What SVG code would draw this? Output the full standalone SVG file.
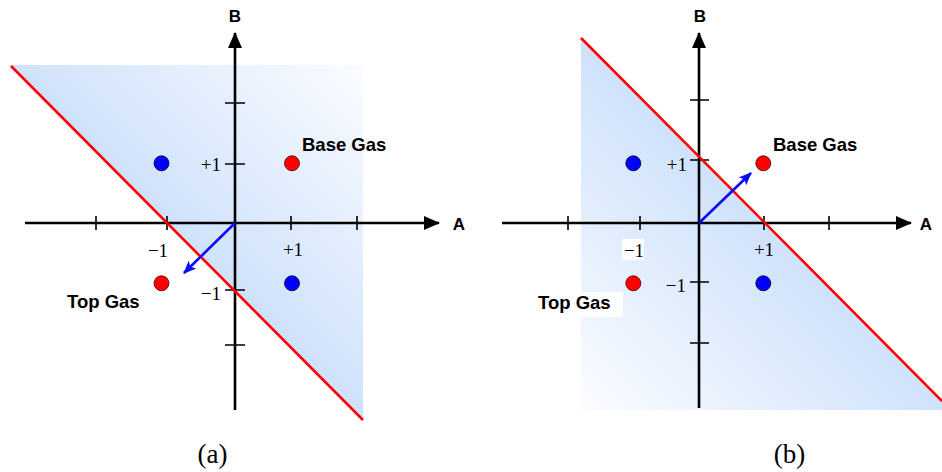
<svg xmlns="http://www.w3.org/2000/svg" width="942" height="472" viewBox="0 0 942 472">
<style>
.ax{stroke:#000;stroke-width:2.6;fill:none}
.tk{stroke:#000;stroke-width:1.6;fill:none}
.red{stroke:#ff0000;stroke-width:2.6;fill:none}
.vec{stroke:#0a0aff;stroke-width:2.6;fill:none}
.num{font-family:"Liberation Serif",serif;font-size:19px;fill:#000}
.lbl{font-family:"Liberation Sans",Arial,sans-serif;font-weight:bold;font-size:18.5px;fill:#000}
.axl{font-family:"Liberation Sans",Arial,sans-serif;font-weight:bold;font-size:17px;fill:#000;text-anchor:middle}
.cap{font-family:"Liberation Serif",serif;font-size:27px;fill:#000;text-anchor:middle}
.rd{fill:#ff0000;stroke:#400;stroke-width:0.8}
.bd{fill:#0000ff;stroke:#002;stroke-width:0.8}
</style>
<defs>
<linearGradient id="ga" gradientUnits="userSpaceOnUse" x1="186.5" y1="241.5" x2="363" y2="65">
<stop offset="0" stop-color="#cfe2fb"/>
<stop offset="1" stop-color="#fbfcff"/>
</linearGradient>
<linearGradient id="gb" gradientUnits="userSpaceOnUse" x1="767" y1="224" x2="581" y2="410">
<stop offset="0" stop-color="#cfe2fb"/>
<stop offset="1" stop-color="#fbfcff"/>
</linearGradient>
<marker id="ah" markerWidth="16" markerHeight="14" refX="15" refY="7" orient="auto" markerUnits="userSpaceOnUse">
<path d="M0,0 L16,7 L0,14 Z" fill="#000"/>
</marker>
<marker id="bh" markerWidth="13" markerHeight="11" refX="12" refY="5.5" orient="auto" markerUnits="userSpaceOnUse">
<path d="M0,0 L13,5.5 L0,11 L3,5.5 Z" fill="#0a0aff"/>
</marker>
</defs>

<g id="panel-a-region">
<polygon points="11,65 363,65 363,420" fill="url(#ga)"/>
</g>
<g id="panel-b-region">
<polygon points="581,38 942,401 942,410 581,410" fill="url(#gb)"/>
</g>

<g id="connectors">
<line class="ax" x1="25" y1="223" x2="439" y2="223" marker-end="url(#ah)"/>
<line class="ax" x1="235" y1="410" x2="235" y2="33" marker-end="url(#ah)"/>
<path class="tk" d="M96,216V230 M167,216V230 M291,216V230 M357,216V230 M225,103H245 M225,164H245 M225,290H245 M225,345H245"/>
<line class="red" x1="11" y1="66" x2="363" y2="420"/>
<line class="vec" x1="235" y1="223" x2="184" y2="273" marker-end="url(#bh)"/>

<line class="ax" x1="502" y1="223" x2="911" y2="223" marker-end="url(#ah)"/>
<line class="ax" x1="699" y1="408" x2="699" y2="33" marker-end="url(#ah)"/>
<path class="tk" d="M568,216V230 M640,216V230 M764,216V230 M829,216V230 M690,100H709 M690,160H709 M690,282H709 M690,343H709"/>
<line class="red" x1="581" y1="38" x2="942" y2="401"/>
<line class="vec" x1="699" y1="223" x2="751" y2="173" marker-end="url(#bh)"/>
</g>

<g id="a-points">
<circle class="bd" cx="161.5" cy="163.3" r="7.5"/>
<circle class="rd" cx="292" cy="163.3" r="7.5"/>
<circle class="rd" cx="161.5" cy="283.3" r="7.5"/>
<circle class="bd" cx="292" cy="283.3" r="7.5"/>
</g>
<g id="a-labels">
<text class="axl" x="235" y="22">B</text>
<text class="axl" x="459" y="230">A</text>
<text class="num" x="221" y="171" text-anchor="end">+1</text>
<text class="num" x="221" y="300" text-anchor="end">−1</text>
<text class="num" x="158" y="257" text-anchor="middle">−1</text>
<text class="num" x="293" y="256" text-anchor="middle">+1</text>
<text class="lbl" x="302" y="151">Base Gas</text>
<text class="lbl" x="67" y="308">Top Gas</text>
<text class="cap" x="212.5" y="463">(a)</text>
</g>

<g id="b-points">
<circle class="bd" cx="633.3" cy="163.3" r="7.5"/>
<circle class="rd" cx="763.3" cy="163.3" r="7.5"/>
<circle class="rd" cx="633.3" cy="283.3" r="7.5"/>
<circle class="bd" cx="763.3" cy="283.3" r="7.5"/>
</g>
<g id="b-labels">
<text class="axl" x="700" y="22">B</text>
<text class="axl" x="926" y="230">A</text>
<text class="num" x="687" y="171" text-anchor="end">+1</text>
<text class="num" x="686" y="292" text-anchor="end">−1</text>
<rect x="622" y="239" width="22" height="21" fill="#fff"/>
<text class="num" x="634" y="257" text-anchor="middle">−1</text>
<text class="num" x="764" y="256" text-anchor="middle">+1</text>
<text class="lbl" x="773" y="151">Base Gas</text>
<rect x="530" y="292" width="93" height="25" fill="#fff"/>
<text class="lbl" x="538" y="309">Top Gas</text>
<text class="cap" x="789.5" y="463">(b)</text>
</g>
</svg>
